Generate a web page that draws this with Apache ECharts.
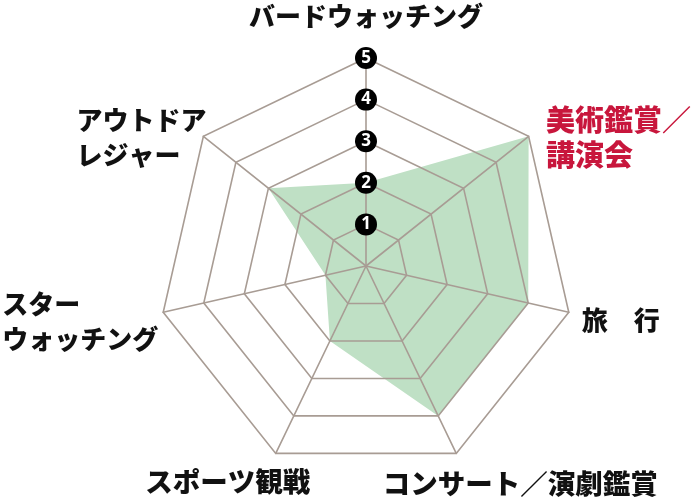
<!DOCTYPE html>
<html>
<head>
<meta charset="utf-8">
<script src="https://cdn.jsdelivr.net/npm/echarts@6/dist/echarts.min.js"></script>
<style>
  html, body { margin: 0; padding: 0; background: #fff; }
  #chart { width: 695px; height: 498px; }
</style>
</head>
<body>
<div id="chart"></div>
<script>
var categories = ['バードウォッチング', 'アウトドア\nレジャー', 'スター\nウォッチング', 'スポーツ観戦', 'コンサート／演劇鑑賞', '旅　行', '美術鑑賞／\n講演会'];
var scores = [2, 3, 1, 2, 4, 4, 5];
var maxScore = 5;
var highlight = 6; // 美術鑑賞／講演会 is shown in red

// shift of each name's centre from its vertex (px); the top one uses nameGap
var nameShift = [[0, 0], [-62, 1], [-83, 9], [-48, 28], [64, 30], [52, 8], [90, 1]];
var nameSize = [26, 26, 26, 27.5, 27.5, 26, 29];

function shiftPadding(s) {
  var dx = s[0], dy = s[1];
  return [Math.max(0, 2 * dy), Math.max(0, -2 * dx), Math.max(0, -2 * dy), Math.max(0, 2 * dx)];
}

var indicators = categories.map(function (name, i) {
  var ind = { name: name, max: maxScore, min: 0 };
  if (i === 0) {
    ind.nameGap = 24;
    ind.nameTextStyle = { align: 'center', verticalAlign: 'bottom' };
    ind.axisLabel = {
      show: true,
      showMinLabel: false,
      margin: 0,
      align: 'center',
      verticalAlign: 'middle',
      formatter: function (v) { return v === 0 ? '' : '{c|' + v + '}'; },
      rich: {
        c: {
          backgroundColor: '#000',
          color: '#fff',
          borderRadius: 11,
          width: 22,
          height: 22,
          lineHeight: 22,
          align: 'center',
          fontSize: 17,
          fontWeight: 'bold',
          fontFamily: 'Noto Sans'
        }
      }
    };
  } else {
    ind.nameTextStyle = {
      align: 'center',
      verticalAlign: 'middle',
      padding: shiftPadding(nameShift[i])
    };
  }
  ind.nameTextStyle.fontSize = nameSize[i];
  if (i === highlight) ind.color = '#c8163c';
  return ind;
});

var chart = echarts.init(document.getElementById('chart'));
var option = {
  animation: false,
  radar: {
    z: 5,
    center: [366, 266],
    radius: 208,
    startAngle: 90,
    splitNumber: 5,
    shape: 'polygon',
    indicator: indicators,
    axisNameGap: 0,
    axisName: {
      color: '#111',
      fontSize: 26,
      fontWeight: 900,
      lineHeight: 35,
      fontFamily: 'Noto Sans CJK JP',
      formatter: function (name) {
        return name.split('\n').map(function (l) { return '{n|' + l + '}'; }).join('\n');
      },
      rich: {
        n: { align: 'left', lineHeight: 35 }
      }
    },
    axisLabel: { show: false },
    axisLine: { lineStyle: { color: '#a89c94', width: 1.6 } },
    splitLine: { lineStyle: { color: '#a89c94', width: 1.6 } },
    splitArea: { show: false }
  },
  series: [{
    type: 'radar',
    z: 2,
    symbol: 'none',
    lineStyle: { width: 0 },
    areaStyle: { color: '#bfe0c5', opacity: 1 },
    data: [{ value: scores }]
  }]
};
chart.setOption(option);
</script>
</body>
</html>
